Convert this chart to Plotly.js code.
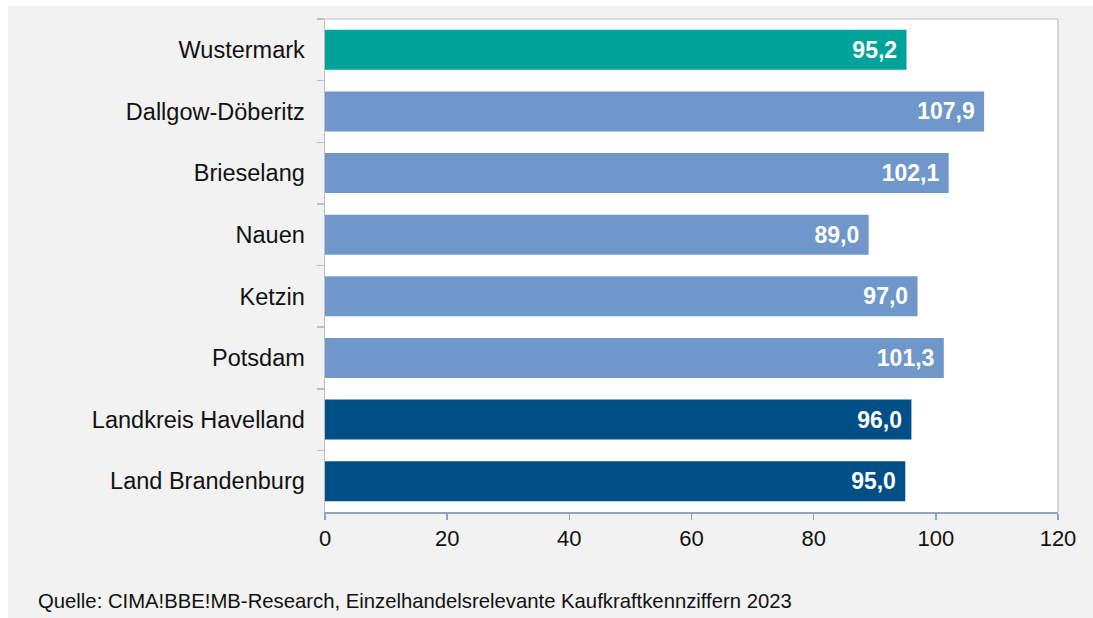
<!DOCTYPE html>
<html><head><meta charset="utf-8">
<script src="https://cdn.plot.ly/plotly-3.0.1.min.js"></script>
<style>
html,body{margin:0;padding:0;background:#fff;}
#wrap{position:absolute;left:8px;top:6px;width:1085px;height:612px;}
</style></head>
<body><div id="wrap"></div>
<script>
const categories = ["Wustermark","Dallgow-Döberitz","Brieselang","Nauen","Ketzin","Potsdam","Landkreis Havelland","Land Brandenburg"];
const values = [95.2,107.9,102.1,89.0,97.0,101.3,96.0,95.0];
const barColors = ["#00a39a","#7097c9","#7097c9","#7097c9","#7097c9","#7097c9","#004f86","#004f86"];
const xTicks = [0,20,40,60,80,100,120];
const sourceText = "Quelle: CIMA!BBE!MB-Research, Einzelhandelsrelevante Kaufkraftkennziffern 2023";

const W = 1085, H = 612;
const mL = 317, mR = 35, mT = 13, mB = 106;
const plotW = W - mL - mR, plotH = H - mT - mB;
const trace = {
  type: "bar", orientation: "h",
  y: categories, x: values,
  marker: {color: barColors, line: {width: 0}},
  text: values.map(v => v.toFixed(1).replace(".", ",") + "\u00a0"),
  textposition: "inside", insidetextanchor: "end",
  textfont: {family: "Liberation Sans, Arial, sans-serif", size: 23, color: "#ffffff", weight: "bold"},
  constraintext: "none",
  cliponaxis: false, hoverinfo: "skip"
};
const layout = {
  width: W, height: H,
  paper_bgcolor: "#f2f2f2", plot_bgcolor: "#ffffff",
  margin: {l: mL, r: mR, t: mT, b: mB},
  bargap: 0.35,
  showlegend: false,
  font: {family: "Liberation Sans, Arial, sans-serif", size: 22, color: "#111111"},
  xaxis: {
    range: [0, 120], tickvals: xTicks, ticktext: xTicks.map(String),
    showgrid: false, zeroline: false,
    showline: true, linecolor: "#8ea2c2", linewidth: 1.5,
    ticks: "outside", ticklen: 6, tickcolor: "#8ea2c2", tickwidth: 1.5,
    tickfont: {size: 22, color: "#111111"}, fixedrange: true
  },
  yaxis: {
    type: "category", autorange: "reversed",
    showgrid: false, zeroline: false,
    showline: true, linecolor: "#bfbfbf", linewidth: 1.5,
    ticks: "outside", ticklen: 7, tickcolor: "#bfbfbf", tickwidth: 1.5,
    tickson: "boundaries", ticklabelstandoff: 14,
    tickfont: {size: 23.5, color: "#111111"}, fixedrange: true
  },
  shapes: [
    {type: "line", xref: "paper", yref: "paper", x0: 0, x1: 1, y0: 1, y1: 1, line: {color: "#d0d0d0", width: 1.5}},
    {type: "line", xref: "paper", yref: "paper", x0: 1, x1: 1, y0: 0, y1: 1, line: {color: "#c8c8c8", width: 1.5}}
  ],
  annotations: [{
    text: sourceText, xref: "paper", yref: "paper",
    x: -(mL - 28) / plotW, y: -(601 - 6 - (mT + plotH)) / plotH, xanchor: "left", yanchor: "middle", showarrow: false,
    font: {size: 20.3, color: "#111111"}
  }]
};
Plotly.newPlot("wrap", [trace], layout, {displayModeBar: false, staticPlot: true});
</script></body></html>
